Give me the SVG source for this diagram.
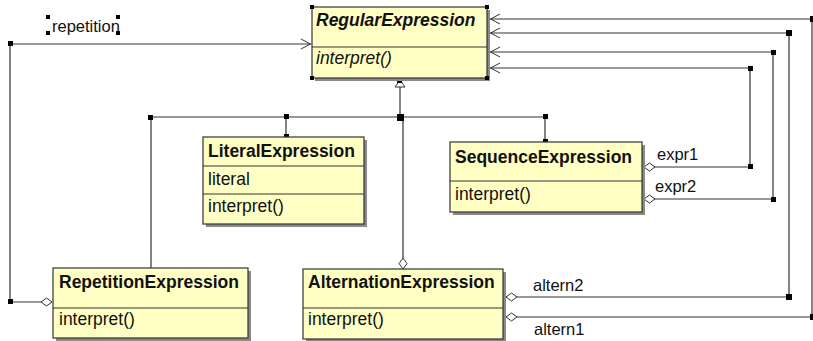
<svg xmlns="http://www.w3.org/2000/svg" width="813" height="341" viewBox="0 0 813 341">
<style>
.bx{fill:#ffffc4;stroke:#333;stroke-width:1.2}
.sh{fill:#8a8a8a}
.dv{stroke:#333;stroke-width:1.2}
.t{font-family:"Liberation Sans",Arial,sans-serif;font-size:17.5px;fill:#111}
.b{font-weight:bold}
.i{font-style:italic}
.lb{font-family:"Liberation Sans",Arial,sans-serif;font-size:16.5px;fill:#111}
.ln{fill:none;stroke:#333;stroke-width:1.2}
.h{fill:#000}
</style>
<defs>
<marker id="arr" viewBox="0 0 10 12" refX="10" refY="6" markerWidth="10" markerHeight="12" markerUnits="userSpaceOnUse" orient="auto"><path d="M0,1 L9.5,6 L0,11" fill="none" stroke="#333" stroke-width="1"/></marker>
<marker id="dia" viewBox="-1 -1 13 10" refX="0" refY="4" markerWidth="13" markerHeight="10" markerUnits="userSpaceOnUse" orient="auto"><path d="M0,4 L5.5,0 L11,4 L5.5,8 Z" fill="#fff" stroke="#333" stroke-width="1"/></marker>
</defs>
<g id="connectors">
<path class="ln" d="M400 87 L400 117 M150 117 L545 117 M286 117 L286 136 M545 117 L545 141 M151 117 L151 268"/>
<path class="ln" d="M403 269 L403 117" marker-start="url(#dia)"/>
<path d="M395 87 L405 87 L400 80 Z" fill="#fff" stroke="#333" stroke-width="1"/>
<path class="ln" d="M644 167 L750 167 L750 68 L490 68" marker-start="url(#dia)" marker-end="url(#arr)"/>
<path class="ln" d="M644 199 L773 199 L773 52 L490 52" marker-start="url(#dia)" marker-end="url(#arr)"/>
<path class="ln" d="M506 297 L789 297 L789 33 L490 33" marker-start="url(#dia)" marker-end="url(#arr)"/>
<path class="ln" d="M506 317 L812 317 L812 19 L490 19" marker-start="url(#dia)" marker-end="url(#arr)"/>
<path class="ln" d="M52 302 L10 302 L10 44 L311 44" marker-start="url(#dia)" marker-end="url(#arr)"/>
<rect class="h" x="397" y="78" width="5" height="5"/>
<rect class="h" x="397" y="114" width="7" height="7"/>
<rect class="h" x="148" y="115" width="5" height="5"/>
<rect class="h" x="284" y="114" width="5" height="5"/>
<rect class="h" x="284" y="134" width="5" height="5"/>
<rect class="h" x="543" y="114" width="5" height="5"/>
<rect class="h" x="543" y="139" width="5" height="5"/>
<rect class="h" x="748" y="66" width="5" height="5"/>
<rect class="h" x="771" y="50" width="5" height="5"/>
<rect class="h" x="786" y="30" width="6" height="6"/>
<rect class="h" x="810" y="16" width="5" height="6"/>
<rect class="h" x="748" y="164" width="5" height="5"/>
<rect class="h" x="771" y="197" width="5" height="5"/>
<rect class="h" x="786" y="294" width="6" height="6"/>
<rect class="h" x="810" y="314" width="5" height="6"/>
<rect class="h" x="8" y="41" width="5" height="5"/>
<rect class="h" x="8" y="299" width="5" height="5"/>
<text class="lb" x="52" y="32">repetition</text>
<rect class="h" x="46" y="15" width="4" height="4"/>
<rect class="h" x="116" y="15" width="4" height="4"/>
<rect class="h" x="46" y="31" width="4" height="4"/>
<rect class="h" x="116" y="31" width="4" height="4"/>
<text class="lb" x="657" y="160">expr1</text>
<text class="lb" x="655" y="192">expr2</text>
<text class="lb" x="533" y="291">altern2</text>
<text class="lb" x="534" y="335">altern1</text>
</g>
<g id="RegularExpression">
<rect class="sh" x="315" y="10" width="175" height="71"/>
<rect class="bx" x="312" y="7" width="175" height="71"/>
<line class="dv" x1="312" y1="47" x2="487" y2="47"/>
<text class="t b i" x="316" y="26">RegularExpression</text>
<text class="t i" x="316" y="64">interpret()</text>
<rect class="h" x="310" y="5" width="4" height="4"/>
<rect class="h" x="485" y="5" width="4" height="4"/>
<rect class="h" x="310" y="76" width="4" height="4"/>
<rect class="h" x="485" y="76" width="4" height="4"/>
</g>
<g id="LiteralExpression">
<rect class="sh" x="206" y="140" width="161" height="87"/>
<rect class="bx" x="203" y="137" width="161" height="87"/>
<line class="dv" x1="203" y1="166" x2="364" y2="166"/>
<line class="dv" x1="203" y1="194" x2="364" y2="194"/>
<text class="t b" x="208" y="157">LiteralExpression</text>
<text class="t" x="208" y="185">literal</text>
<text class="t" x="208" y="212">interpret()</text>
</g>
<g id="SequenceExpression">
<rect class="sh" x="453" y="145" width="192" height="70"/>
<rect class="bx" x="450" y="142" width="192" height="70"/>
<line class="dv" x1="450" y1="181" x2="642" y2="181"/>
<text class="t b" x="455" y="163">SequenceExpression</text>
<text class="t" x="455" y="200">interpret()</text>
</g>
<g id="RepetitionExpression">
<rect class="sh" x="56" y="271" width="195" height="70"/>
<rect class="bx" x="53" y="268" width="195" height="70"/>
<line class="dv" x1="53" y1="308" x2="248" y2="308"/>
<text class="t b" x="59" y="288">RepetitionExpression</text>
<text class="t" x="59" y="325">interpret()</text>
</g>
<g id="AlternationExpression">
<rect class="sh" x="306" y="272" width="200" height="70"/>
<rect class="bx" x="303" y="269" width="200" height="70"/>
<line class="dv" x1="303" y1="308" x2="503" y2="308"/>
<text class="t b" x="308" y="288">AlternationExpression</text>
<text class="t" x="308" y="325">interpret()</text>
</g>
</svg>
